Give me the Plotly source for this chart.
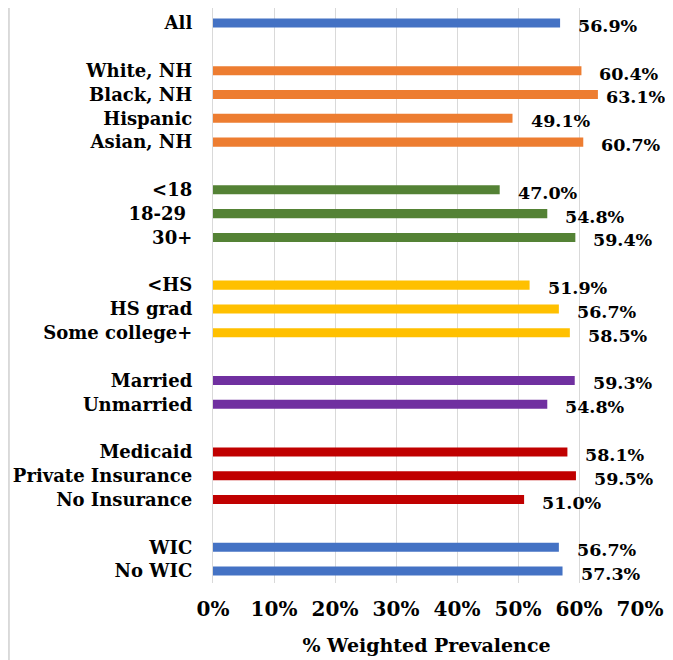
import plotly.graph_objects as go

categories = ["All", "White, NH", "Black, NH", "Hispanic", "Asian, NH",
              "<18", "18-29 ", "30+", "<HS", "HS grad", "Some college+",
              "Married", "Unmarried", "Medicaid", "Private Insurance", "No Insurance",
              "WIC", "No WIC"]
values = [56.9, 60.4, 63.1, 49.1, 60.7,
          47.0, 54.8, 59.4, 51.9, 56.7, 58.5,
          59.3, 54.8, 58.1, 59.5, 51.0,
          56.7, 57.3]
groups = [0, 1, 1, 1, 1, 2, 2, 2, 3, 3, 3, 4, 4, 5, 5, 5, 6, 6]
group_colors = ["#4472C4", "#ED7D31", "#548235", "#FFC000", "#7030A0", "#C00000", "#4472C4"]
x_ticks = [0, 10, 20, 30, 40, 50, 60, 70]
x_tick_labels = ["0%", "10%", "20%", "30%", "40%", "50%", "60%", "70%"]

# Category order with blank spacer rows between groups
order = []
prev = None
spacer = 0
for c, g in zip(categories, groups):
    if prev is not None and g != prev:
        spacer += 1
        order.append(" " * spacer + "\u200b")
    order.append(c)
    prev = g

FONT = "DejaVu Serif"

fig = go.Figure()
fig.add_trace(go.Bar(
    y=categories, x=values, orientation="h",
    marker=dict(color=[group_colors[g] for g in groups], line=dict(width=0)),
    width=0.38, hoverinfo="x+y",
))

for c, v in zip(categories, values):
    shift = 16 if v < 62 else 6
    fig.add_annotation(x=v, y=c, text=f"{v:.1f}%", showarrow=False,
                       xanchor="left", yanchor="middle", xshift=shift, yshift=-3,
                       font=dict(family=FONT, size=17.5, color="black", weight="bold"))

fig.add_shape(type="line", xref="paper", yref="paper", x0=-0.478, x1=-0.478,
              y0=-0.3, y1=1.1, layer="below", line=dict(color="#d9d9d9", width=2))

fig.update_layout(
    width=673, height=660,
    margin=dict(l=205, r=41, t=0, b=85, autoexpand=False),
    paper_bgcolor="white", plot_bgcolor="white",
    showlegend=False,
    font=dict(family=FONT, color="black", size=20),
    xaxis=dict(range=[0, 70], tickmode="array", tickvals=x_ticks, ticktext=x_tick_labels,
               showgrid=True, gridcolor="#d9d9d9", gridwidth=1.3,
               zeroline=False, showline=False, ticks="", automargin=False,
               ticklabelstandoff=12,
               tickfont=dict(family=FONT, size=20, color="black", weight="bold"),
               title=dict(text="% Weighted Prevalence", standoff=18,
                          font=dict(family=FONT, size=19, color="black", weight="bold"))),
    yaxis=dict(type="category", categoryorder="array", categoryarray=order,
               tickmode="array", tickvals=categories, ticktext=categories,
               autorange="reversed", showgrid=False, zeroline=False, automargin=False,
               showline=True, linecolor="#d9d9d9", linewidth=1.3, ticks="",
               ticklabelstandoff=16,
               tickfont=dict(family=FONT, size=18, color="black", weight="bold")),
)

fig.write_html("out.html")
